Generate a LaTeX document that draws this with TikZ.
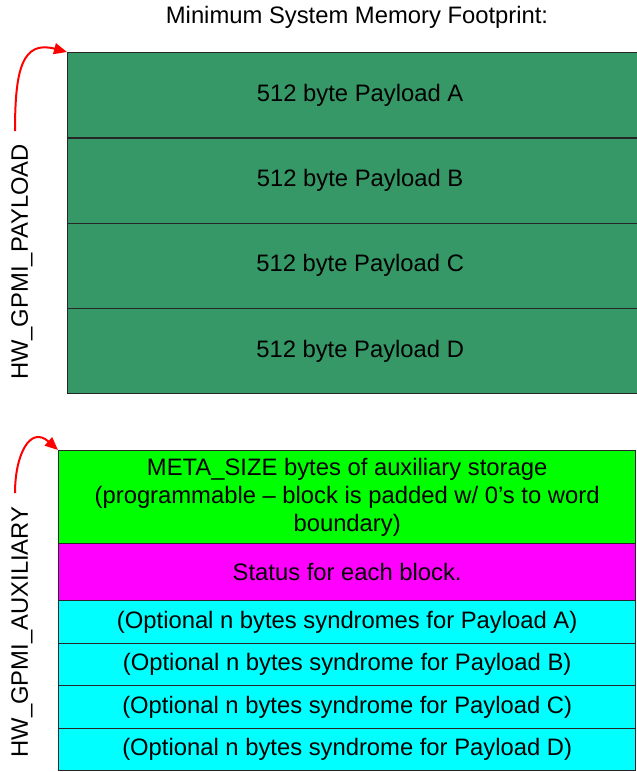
\documentclass[tikz,border=0pt]{standalone}
\usepackage{fontspec}
\setmainfont{Liberation Sans}
\usetikzlibrary{arrows.meta}
\definecolor{payg}{RGB}{53,152,102}
\definecolor{auxg}{RGB}{0,255,0}
\definecolor{mag}{RGB}{255,0,255}
\definecolor{cyn}{RGB}{0,255,255}
\begin{document}
\begin{tikzpicture}[x=1pt,y=-1pt,
  row/.style={draw=black!85,line width=1.3pt,inner sep=0pt,anchor=north west,align=center,font=\fontsize{23.8}{28}\selectfont},
  prow/.style={row,fill=payg,minimum width=585pt,minimum height=85.25pt},
  arow/.style={row,minimum width=577pt},
  lbl/.style={rotate=90,font=\fontsize{23.8}{28}\selectfont},
  redarr/.style={draw=red,line width=2pt,-{Triangle[length=13pt,width=11pt]}}]
\useasboundingbox (0,0) rectangle (637,772);
\node[font=\fontsize{23.8}{28}\selectfont] (title) at (357,17) {Minimum System Memory Footprint:};
\node[prow] (pa) at (67,52) {512 byte Payload A};
\node[prow] (pb) at (67,137.25) {512 byte Payload B};
\node[prow] (pc) at (67,222.5) {512 byte Payload C};
\node[prow] (pd) at (67,307.75) {512 byte Payload D};
\node[arow,fill=auxg,minimum height=93pt] (meta) at (58,450) {META\_SIZE bytes of auxiliary storage\\(programmable -- block is padded w/ 0's to word\\boundary)};
\node[arow,fill=mag,minimum height=57pt] (stat) at (58,543) {Status for each block.};
\node[arow,fill=cyn,minimum height=42.5pt] (sa) at (58,600) {(Optional n bytes syndromes for Payload A)};
\node[arow,fill=cyn,minimum height=42.5pt] (sb) at (58,642.5) {(Optional n bytes syndrome for Payload B)};
\node[arow,fill=cyn,minimum height=42.5pt] (sc) at (58,685) {(Optional n bytes syndrome for Payload C)};
\node[arow,fill=cyn,minimum height=42.5pt] (sd) at (58,727.5) {(Optional n bytes syndrome for Payload D)};
\node[lbl] (lp) at (22,262) {HW\_GPMI\_PAYLOAD};
\node[lbl] (la) at (22,632) {HW\_GPMI\_AUXILIARY};
\coordinate (sp) at (15,131);
\coordinate (sx) at (15,493);
\draw[redarr] (sp) .. controls (15,70) and (22,40) .. (pa.north west);
\draw[redarr] (sx) .. controls (15,455) and (30,425) .. (meta.north west);
\end{tikzpicture}
\end{document}
